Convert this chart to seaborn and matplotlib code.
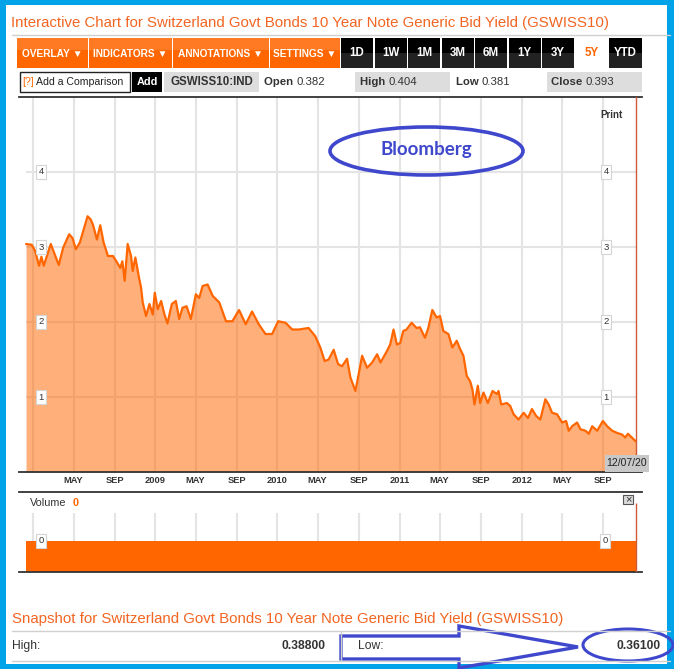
import pandas as pd
import matplotlib
matplotlib.use('Agg')
import matplotlib.pyplot as plt
from matplotlib import font_manager
from matplotlib.patches import Rectangle, Ellipse, Polygon
import seaborn as sns

# --- Dados ---

datas = [
    '2007-12-11', '2007-12-28', '2008-01-07', '2008-01-19', '2008-01-26', '2008-02-02',
    '2008-02-23', '2008-03-06', '2008-03-18', '2008-03-31', '2008-04-18', '2008-04-28',
    '2008-05-08', '2008-05-20', '2008-05-30', '2008-06-12', '2008-06-21', '2008-06-28',
    '2008-07-10', '2008-07-20', '2008-07-30', '2008-08-12', '2008-08-27', '2008-09-06',
    '2008-09-18', '2008-09-24', '2008-10-01', '2008-10-10', '2008-10-20', '2008-10-25',
    '2008-11-02', '2008-11-12', '2008-11-19', '2008-11-24', '2008-12-04', '2008-12-14',
    '2008-12-24', '2008-12-30', '2009-01-08', '2009-01-18', '2009-01-28', '2009-02-06',
    '2009-02-19', '2009-03-03', '2009-03-13', '2009-03-23', '2009-04-04', '2009-04-17',
    '2009-05-02', '2009-05-12', '2009-05-22', '2009-06-06', '2009-06-21', '2009-07-11',
    '2009-07-31', '2009-08-19', '2009-09-08', '2009-09-28', '2009-10-17', '2009-11-06',
    '2009-11-26', '2009-12-16', '2010-01-03', '2010-01-25', '2010-02-14', '2010-03-06',
    '2010-04-04', '2010-04-24', '2010-05-09', '2010-05-22', '2010-06-03', '2010-06-18',
    '2010-07-01', '2010-07-13', '2010-07-28', '2010-08-07', '2010-08-22', '2010-09-01',
    '2010-09-11', '2010-09-26', '2010-10-11', '2010-10-26', '2010-11-05', '2010-11-24',
    '2010-12-04', '2010-12-14', '2010-12-24', '2011-01-03', '2011-01-12', '2011-01-22',
    '2011-02-06', '2011-02-21', '2011-03-03', '2011-03-18', '2011-03-28', '2011-04-09',
    '2011-04-22', '2011-05-02', '2011-05-12', '2011-05-27', '2011-06-08', '2011-06-21',
    '2011-07-01', '2011-07-11', '2011-07-21', '2011-07-31', '2011-08-07', '2011-08-13',
    '2011-08-23', '2011-08-30', '2011-09-09', '2011-09-22', '2011-10-06', '2011-10-19',
    '2011-10-24', '2011-11-01', '2011-11-18', '2011-11-28', '2011-12-08', '2011-12-23',
    '2012-01-07', '2012-01-20', '2012-02-01', '2012-02-13', '2012-02-26', '2012-03-12',
    '2012-03-22', '2012-04-01', '2012-04-16', '2012-05-01', '2012-05-13', '2012-05-21',
    '2012-05-31', '2012-06-15', '2012-06-25', '2012-07-10', '2012-07-20', '2012-07-30',
    '2012-08-14', '2012-08-31', '2012-09-13', '2012-09-28', '2012-10-13', '2012-10-27',
    '2012-11-06', '2012-11-14', '2012-11-28', '2012-12-07',
]

rendimento = [
    3.04, 3.03, 2.95, 2.75, 2.87, 2.75,
    3.04, 2.90, 2.76, 2.99, 3.17, 3.12,
    2.97, 3.06, 3.21, 3.41, 3.37, 3.30,
    3.10, 3.29, 3.06, 2.88, 2.88, 2.81,
    2.72, 2.81, 2.55, 3.04, 2.88, 2.68,
    2.86, 2.61, 2.46, 2.26, 2.08, 2.24,
    2.10, 2.39, 2.17, 2.28, 2.10, 1.98,
    2.24, 2.28, 2.04, 2.19, 2.21, 2.04,
    2.37, 2.32, 2.48, 2.50, 2.35, 2.26,
    2.01, 2.01, 2.16, 1.97, 2.14, 1.97,
    1.84, 1.84, 2.01, 1.99, 1.90, 1.90,
    1.92, 1.81, 1.66, 1.48, 1.50, 1.63,
    1.44, 1.41, 1.51, 1.26, 1.08, 1.31,
    1.55, 1.39, 1.46, 1.57, 1.46, 1.61,
    1.70, 1.90, 1.70, 1.72, 1.88, 1.90,
    1.99, 1.92, 1.93, 1.79, 1.92, 2.16,
    2.06, 2.08, 1.88, 1.84, 1.66, 1.75,
    1.64, 1.55, 1.28, 1.21, 1.10, 0.90,
    1.15, 0.92, 1.06, 0.92, 1.08, 1.04,
    1.08, 0.90, 0.92, 0.88, 0.77, 0.70,
    0.79, 0.72, 0.84, 0.75, 0.70, 0.97,
    0.90, 0.79, 0.77, 0.66, 0.68, 0.55,
    0.61, 0.66, 0.57, 0.55, 0.51, 0.61,
    0.55, 0.68, 0.61, 0.55, 0.52, 0.50,
    0.46, 0.51, 0.45, 0.41,
]

# Volume (zero em todo o período)
volume_datas = ['2007-12-11', '2012-12-07']
volume = [0, 0]

y_ticks = [1, 2, 3, 4]
x_tick_datas = [
    '2008-01-01', '2008-05-01', '2008-09-01', '2009-01-01', '2009-05-01', '2009-09-01',
    '2010-01-01', '2010-05-01', '2010-09-01', '2011-01-01', '2011-05-01', '2011-09-01',
    '2012-01-01', '2012-05-01', '2012-09-01',
]
x_tick_labels = ['', 'MAY', 'SEP', '2009', 'MAY', 'SEP', '2010', 'MAY', 'SEP',
                 '2011', 'MAY', 'SEP', '2012', 'MAY', 'SEP']

titulo = 'Interactive Chart for Switzerland Govt Bonds 10 Year Note Generic Bid Yield (GSWISS10)'
titulo_snapshot = 'Snapshot for Switzerland Govt Bonds 10 Year Note Generic Bid Yield (GSWISS10)'
botoes_menu = ['OVERLAY \u25bc', 'INDICATORS \u25bc', 'ANNOTATIONS \u25bc', 'SETTINGS \u25bc']
periodos = ['1D', '1W', '1M', '3M', '6M', '1Y', '3Y', '5Y', 'YTD']
periodo_ativo = '5Y'
ticker = 'GSWISS10:IND'
cotacao = {'Open': '0.382', 'High': '0.404', 'Low': '0.381', 'Close': '0.393'}
snapshot_high = '0.38800'
snapshot_low = '0.36100'
data_final = '12/07/20'

# --- Estilo ---
sns.set_theme(style='white')
nomes = {f.name for f in font_manager.fontManager.ttflist}
SANS = 'Liberation Sans' if 'Liberation Sans' in nomes else 'DejaVu Sans'
NARROW = 'Liberation Sans Narrow' if 'Liberation Sans Narrow' in nomes else SANS
BOLD_B = 'Lato' if 'Lato' in nomes else 'DejaVu Sans'
plt.rcParams['font.family'] = [SANS, 'DejaVu Sans']

LARANJA = '#FF6600'
LARANJA_CLARO = '#FF7A22'
TITULO_COR = '#F26522'
AZUL = '#3F48CC'
AZUL_BORDA = '#00A2E8'
GRADE = '#E4E4E4'
ESCURO = '#333333'
VERMELHO = '#D05A36'

W, H = 674, 669
fig = plt.figure(figsize=(W / 100, H / 100), dpi=100)
fig.patch.set_facecolor('white')


def eixo_px(x0, y0, x1, y1, **kw):
    return fig.add_axes([x0 / W, 1 - y1 / H, (x1 - x0) / W, (y1 - y0) / H], **kw)


df = pd.DataFrame({'Data': pd.to_datetime(datas), 'Yield': rendimento})
inicio, fim = df['Data'].iloc[0], df['Data'].iloc[-1]
xmin, xmax = pd.Timestamp('2007-11-20'), pd.Timestamp('2012-12-26')
tick_pos = pd.to_datetime(x_tick_datas)

# --- Gráfico principal ---
ax = eixo_px(19, 97, 642, 472)
ax.set_facecolor('white')
ax.set_xlim(xmin, xmax)
ax.set_ylim(0, 5)
ax.vlines(tick_pos, 0, 5, color=GRADE, lw=1.5, zorder=0)
ax.hlines(y_ticks, inicio, fim, color=GRADE, lw=1.5, zorder=0)
ax.fill_between(df['Data'], df['Yield'], 0, color=LARANJA, alpha=0.52, lw=0, zorder=1)
sns.lineplot(data=df, x='Data', y='Yield', ax=ax, color=LARANJA, linewidth=1.6, zorder=2)
ax.axvline(fim, color=VERMELHO, lw=1.0, zorder=3)

ax.set_xticks(tick_pos)
ax.set_xticklabels(x_tick_labels, fontfamily=NARROW, fontweight='bold', fontsize=6.7, color=ESCURO)
ax.tick_params(axis='x', length=0, pad=3)
ax.set_yticks([])
ax.set_xlabel('')
ax.set_ylabel('')
for s in ['left', 'right']:
    ax.spines[s].set_visible(False)
for s in ['top', 'bottom']:
    ax.spines[s].set_color(ESCURO)
    ax.spines[s].set_linewidth(1.3)

caixa = dict(boxstyle='square,pad=0.25', fc='white', ec='#D4D4D4', lw=0.8)
for v in y_ticks:
    for xf in (0.0353, 0.9422):
        ax.text(xf, v, str(v), transform=ax.get_yaxis_transform(), ha='center', va='center',
                fontsize=6.8, color=ESCURO, bbox=caixa, zorder=4)

# --- Painel de volume ---
vax = eixo_px(19, 492, 642, 572)
vax.set_facecolor('white')
vax.set_xlim(xmin, xmax)
vax.set_ylim(-1, 1.556)
vax.vlines(tick_pos, 0, 0.885, color=GRADE, lw=1.5, zorder=0)
vax.fill_between(pd.to_datetime(volume_datas), volume, -1, color=LARANJA, lw=0, zorder=1)
vax.vlines(fim, -1, 1.2, color=VERMELHO, lw=1.0, zorder=3)
vax.set_xticks([])
vax.set_yticks([])
for s in ['left', 'right']:
    vax.spines[s].set_visible(False)
for s in ['top', 'bottom']:
    vax.spines[s].set_color(ESCURO)
    vax.spines[s].set_linewidth(1.3)
for xf in (0.0353, 0.9406):
    vax.text(xf, volume[0], str(volume[0]), transform=vax.get_yaxis_transform(), ha='center',
             va='center', fontsize=6.8, color=ESCURO, bbox=caixa, zorder=4)

# --- Camada da interface (coordenadas em pixels) ---
ov = fig.add_axes([0, 0, 1, 1], zorder=10)
ov.set_xlim(0, W)
ov.set_ylim(H, 0)
ov.axis('off')

ov.text(11, 23, titulo, color=TITULO_COR, fontsize=10.8, va='center', ha='left')
ov.plot([12, 670], [35, 35], color='#D0D0D0', lw=1)

# Botões do menu
bordas = [17, 89, 173, 270, 341]
for i, rotulo in enumerate(botoes_menu):
    x0, x1 = bordas[i], bordas[i + 1]
    ov.add_patch(Rectangle((x0, 38), x1 - x0 - 1.5, 30, fc=LARANJA, ec='none'))
    ov.add_patch(Rectangle((x0, 38), x1 - x0 - 1.5, 12, fc=LARANJA_CLARO, ec='none'))
    ov.text((x0 + x1) / 2 - 0.5, 53.5, rotulo, color='white', fontsize=7.3, fontweight='bold',
            fontfamily=[NARROW, 'DejaVu Sans'], ha='center', va='center')

for i, p in enumerate(periodos):
    x0 = 341 + i * 33.5
    w = 33 if p == 'YTD' else 32
    if p == periodo_ativo:
        ov.text(x0 + w / 2, 53.5, p, color=LARANJA, fontsize=8.3, fontweight='bold',
                fontfamily=NARROW, ha='center', va='center')
        continue
    ov.add_patch(Rectangle((x0, 38), w, 30, fc='#000000', ec='none'))
    ov.add_patch(Rectangle((x0, 53), w, 15, fc='#222222', ec='none'))
    ov.text(x0 + w / 2, 53.5, p, color='white', fontsize=8.3, fontweight='bold',
            fontfamily=NARROW, ha='center', va='center')

# Segunda linha
ov.add_patch(Rectangle((20, 72), 110, 20, fc='white', ec='#222222', lw=1))
ov.text(22.5, 82, '[?]', color=LARANJA, fontsize=7.6, va='center')
ov.text(36, 82, 'Add a Comparison', color='#222222', fontsize=7.6, va='center')
ov.add_patch(Rectangle((132, 72), 30, 20, fc='#000000', ec='none'))
ov.text(147, 82, 'Add', color='white', fontsize=7.8, fontweight='bold', ha='center', va='center')
ov.add_patch(Rectangle((164, 72), 95, 20, fc='#DDDDDD', ec='none'))
ov.text(211.5, 82, ticker, color=ESCURO, fontsize=8.3, fontweight='bold', ha='center', va='center')
ov.add_patch(Rectangle((355, 72), 95, 20, fc='#DDDDDD', ec='none'))
ov.add_patch(Rectangle((547, 72), 95, 20, fc='#DDDDDD', ec='none'))
for rotulo, x in [('Open', 264), ('High', 360), ('Low', 456), ('Close', 551)]:
    t = ov.text(x, 82, rotulo + ' ', color=ESCURO, fontsize=8.2, fontweight='bold', va='center')
    ov.annotate(cotacao[rotulo], xycoords=t, xy=(1, 0.5), va='center', ha='left',
                fontsize=8.2, color=ESCURO)

ov.text(611.5, 115.5, 'Print', color=ESCURO, fontsize=7, fontweight='bold', ha='center', va='center')

# Data final
ov.add_patch(Rectangle((605, 455), 44, 17, fc='#C8C8C8', ec='none'))
ov.text(627, 463.5, data_final, color='#222222', fontsize=7.5, ha='center', va='center')

# Volume
ov.text(30, 503, 'Volume', color=ESCURO, fontsize=7.8, va='center')
ov.text(73, 503, str(volume[-1]), color=LARANJA, fontsize=7.8, fontweight='bold', va='center')
ov.add_patch(Rectangle((623, 495), 10, 9, fc='#DADADA', ec='#555555', lw=0.8))
ov.text(628, 499.5, '\u00d7', color='#333333', fontsize=8, ha='center', va='center')

# Snapshot
ov.text(12, 619, titulo_snapshot, color=TITULO_COR, fontsize=10.8, va='center', ha='left')
ov.plot([12, 670], [631, 631], color='#D0D0D0', lw=1)
ov.plot([12, 670], [661, 661], color='#D0D0D0', lw=1)
ov.plot([341, 341], [631, 661], color='#D0D0D0', lw=1)
ov.text(12, 646, 'High:', color=ESCURO, fontsize=8.7, va='center')
ov.text(325, 646, snapshot_high, color=ESCURO, fontsize=8.7, fontweight='bold', ha='right', va='center')
ov.text(358, 646, 'Low:', color=ESCURO, fontsize=8.7, va='center')
ov.text(661, 646, snapshot_low, color=ESCURO, fontsize=8.7, fontweight='bold', ha='right', va='center')

# Moldura azul
for r in [(0, 0, 6, H), (0, 0, W, 5), (667, 0, 7, H), (0, 664, W, 5)]:
    ov.add_patch(Rectangle(r[:2], r[2], r[3], fc=AZUL_BORDA, ec='none'))

# Anotações
ov.add_patch(Ellipse((426.5, 151), 193, 48, fill=False, ec=AZUL, lw=2.6))
ov.text(426, 149, 'Bloomberg', color=AZUL, fontsize=13.5, fontweight='bold', fontfamily=BOLD_B,
        ha='center', va='center')
seta = [(341, 636), (459, 636), (459, 626), (578, 647), (459, 668), (459, 659), (341, 659)]
ov.add_patch(Polygon(seta, closed=True, fill=False, ec=AZUL, lw=2.4, joinstyle='miter'))
ov.add_patch(Ellipse((628, 645), 90, 32, fill=False, ec=AZUL, lw=2.2))

fig.savefig('out.png', dpi=100)
